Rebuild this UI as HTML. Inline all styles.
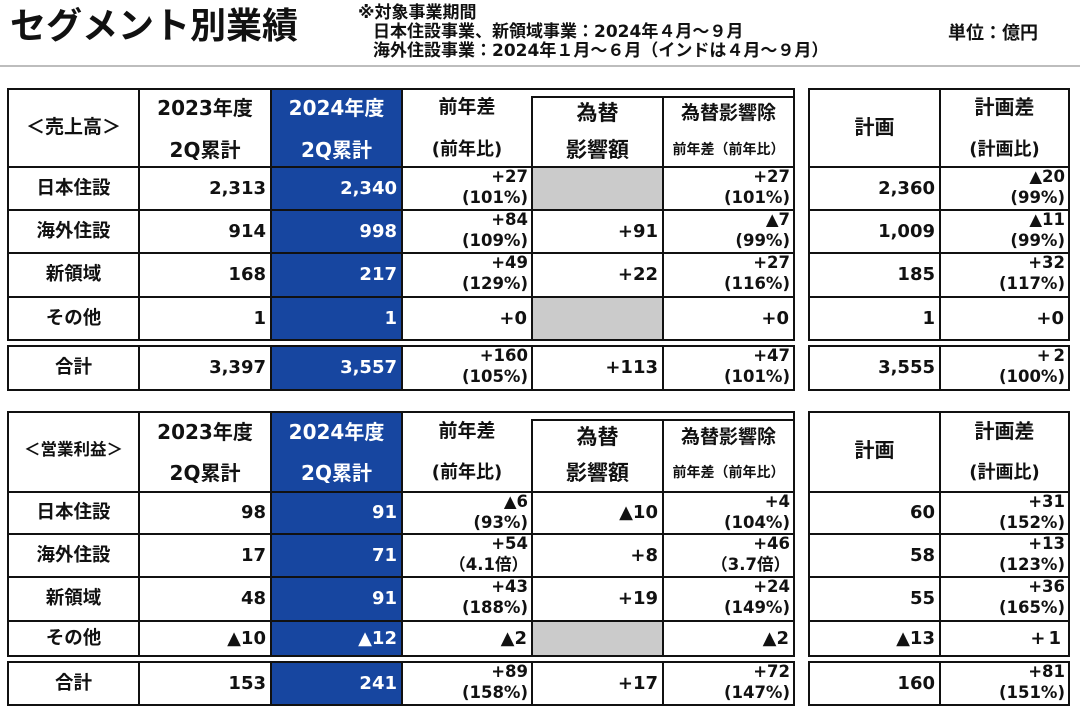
<!DOCTYPE html>
<html><head><meta charset="utf-8">
<style>
html,body{margin:0;padding:0;background:#fff;}
body{width:1080px;height:718px;position:relative;overflow:hidden;font-family:"DejaVu Sans","Noto Sans CJK JP",sans-serif;font-weight:bold;color:#111;}
div{position:absolute;white-space:nowrap;}
.hl{height:2px;background:#111;}
.vl{width:2px;background:#111;}
.blue{background:#1746a0;}
.gray{background:#cbcbcb;}
.h{height:26px;line-height:26px;text-align:center;font-size:20px;}
.lb{left:8px;width:131px;text-align:center;font-size:18.5px;}
.n{text-align:right;font-size:18px;}
.d{text-align:right;font-size:16.5px;}
.d span{display:block;height:21px;line-height:21px;}
.w{color:#fff;}
</style></head><body>

<!-- Title area -->
<div style="left:10px;top:4px;height:46px;line-height:46px;font-size:36px;">セグメント別業績</div>
<div style="left:358px;top:4px;height:19px;line-height:19px;font-size:17px;">※対象事業期間</div>
<div style="left:373px;top:23px;height:19px;line-height:19px;font-size:17px;">日本住設事業、新領域事業：2024年４月～９月</div>
<div style="left:373px;top:42px;height:19px;line-height:19px;font-size:17px;">海外住設事業：2024年１月～６月（インドは４月～９月）</div>
<div style="left:948px;top:22px;height:24px;line-height:24px;font-size:18px;">単位：億円</div>
<div style="left:0;top:65px;width:1080px;height:2px;background:#bdbdbd;"></div>

<!-- ===== TABLE 1 fills ===== -->
<div class="blue" style="left:271px;top:89px;width:131px;height:251px;"></div>
<div class="blue" style="left:271px;top:346px;width:131px;height:44px;"></div>
<div class="gray" style="left:532px;top:167px;width:131px;height:43px;"></div>
<div class="gray" style="left:532px;top:297px;width:131px;height:43px;"></div>

<!-- TABLE 1 lines left -->
<div class="hl" style="left:7px;width:788px;top:88px;"></div>
<div class="hl" style="left:531px;width:264px;top:96px;"></div>
<div class="hl" style="left:7px;width:788px;top:166px;"></div>
<div class="hl" style="left:7px;width:788px;top:209px;"></div>
<div class="hl" style="left:7px;width:788px;top:252px;"></div>
<div class="hl" style="left:7px;width:788px;top:296px;"></div>
<div class="hl" style="left:7px;width:788px;top:339px;"></div>
<div class="hl" style="left:7px;width:788px;top:345px;"></div>
<div class="hl" style="left:7px;width:788px;top:389px;"></div>
<div class="vl" style="left:7px;top:88px;height:253px;"></div>
<div class="vl" style="left:138px;top:88px;height:253px;"></div>
<div class="vl" style="left:270px;top:88px;height:253px;"></div>
<div class="vl" style="left:401px;top:88px;height:253px;"></div>
<div class="vl" style="left:793px;top:88px;height:253px;"></div>
<div class="vl" style="left:531px;top:96px;height:245px;"></div>
<div class="vl" style="left:662px;top:96px;height:245px;"></div>
<div class="vl" style="left:7px;top:345px;height:46px;"></div>
<div class="vl" style="left:138px;top:345px;height:46px;"></div>
<div class="vl" style="left:270px;top:345px;height:46px;"></div>
<div class="vl" style="left:401px;top:345px;height:46px;"></div>
<div class="vl" style="left:531px;top:345px;height:46px;"></div>
<div class="vl" style="left:662px;top:345px;height:46px;"></div>
<div class="vl" style="left:793px;top:345px;height:46px;"></div>
<!-- TABLE 1 lines right -->
<div class="hl" style="left:808px;width:262px;top:88px;"></div>
<div class="hl" style="left:808px;width:262px;top:166px;"></div>
<div class="hl" style="left:808px;width:262px;top:209px;"></div>
<div class="hl" style="left:808px;width:262px;top:252px;"></div>
<div class="hl" style="left:808px;width:262px;top:296px;"></div>
<div class="hl" style="left:808px;width:262px;top:339px;"></div>
<div class="hl" style="left:808px;width:262px;top:345px;"></div>
<div class="hl" style="left:808px;width:262px;top:389px;"></div>
<div class="vl" style="left:808px;top:88px;height:253px;"></div>
<div class="vl" style="left:939px;top:88px;height:253px;"></div>
<div class="vl" style="left:1068px;top:88px;height:253px;"></div>
<div class="vl" style="left:808px;top:345px;height:46px;"></div>
<div class="vl" style="left:939px;top:345px;height:46px;"></div>
<div class="vl" style="left:1068px;top:345px;height:46px;"></div>

<!-- TABLE 1 headers -->
<div class="h" style="left:8px;width:131px;top:114px;font-size:19px;">＜売上高＞</div>
<div class="h" style="left:139px;width:132px;top:95px;">2023年度</div>
<div class="h" style="left:139px;width:132px;top:137px;">2Q累計</div>
<div class="h w" style="left:271px;width:131px;top:95px;">2024年度</div>
<div class="h w" style="left:271px;width:131px;top:137px;">2Q累計</div>
<div class="h" style="left:402px;width:130px;top:94px;font-size:19px;">前年差</div>
<div class="h" style="left:402px;width:130px;top:137px;font-size:18px;">(前年比)</div>
<div class="h" style="left:532px;width:131px;top:100px;font-size:21px;">為替</div>
<div class="h" style="left:532px;width:131px;top:137px;font-size:21px;">影響額</div>
<div class="h" style="left:663px;width:131px;top:100px;font-size:19px;">為替影響除</div>
<div class="h" style="left:663px;width:131px;top:137px;font-size:14px;">前年差（前年比）</div>
<div class="h" style="left:809px;width:131px;top:114px;">計画</div>
<div class="h" style="left:940px;width:129px;top:94px;">計画差</div>
<div class="h" style="left:940px;width:129px;top:137px;font-size:18px;">(計画比)</div>

<!-- TABLE 1 row 1 -->
<div class="lb" style="top:167px;height:43px;line-height:43px;">日本住設</div>
<div class="n" style="left:139px;width:127px;top:167px;height:43px;line-height:43px;">2,313</div>
<div class="n w" style="left:271px;width:126px;top:167px;height:43px;line-height:43px;">2,340</div>
<div class="d" style="left:402px;width:126px;top:166px;"><span>+27</span><span>(101%)</span></div>
<div class="d" style="left:663px;width:127px;top:166px;"><span>+27</span><span>(101%)</span></div>
<div class="n" style="left:809px;width:126px;top:167px;height:43px;line-height:43px;">2,360</div>
<div class="d" style="left:940px;width:125px;top:166px;"><span>▲20</span><span>(99%)</span></div>
<!-- row 2 -->
<div class="lb" style="top:210px;height:43px;line-height:43px;">海外住設</div>
<div class="n" style="left:139px;width:127px;top:210px;height:43px;line-height:43px;">914</div>
<div class="n w" style="left:271px;width:126px;top:210px;height:43px;line-height:43px;">998</div>
<div class="d" style="left:402px;width:126px;top:209px;"><span>+84</span><span>(109%)</span></div>
<div class="n" style="left:532px;width:126px;top:210px;height:43px;line-height:43px;">+91</div>
<div class="d" style="left:663px;width:127px;top:209px;"><span>▲7</span><span>(99%)</span></div>
<div class="n" style="left:809px;width:126px;top:210px;height:43px;line-height:43px;">1,009</div>
<div class="d" style="left:940px;width:125px;top:209px;"><span>▲11</span><span>(99%)</span></div>
<!-- row 3 -->
<div class="lb" style="top:253px;height:44px;line-height:44px;">新領域</div>
<div class="n" style="left:139px;width:127px;top:253px;height:44px;line-height:44px;">168</div>
<div class="n w" style="left:271px;width:126px;top:253px;height:44px;line-height:44px;">217</div>
<div class="d" style="left:402px;width:126px;top:252px;"><span>+49</span><span>(129%)</span></div>
<div class="n" style="left:532px;width:126px;top:253px;height:44px;line-height:44px;">+22</div>
<div class="d" style="left:663px;width:127px;top:252px;"><span>+27</span><span>(116%)</span></div>
<div class="n" style="left:809px;width:126px;top:253px;height:44px;line-height:44px;">185</div>
<div class="d" style="left:940px;width:125px;top:252px;"><span>+32</span><span>(117%)</span></div>
<!-- row 4 -->
<div class="lb" style="top:297px;height:43px;line-height:43px;">その他</div>
<div class="n" style="left:139px;width:127px;top:297px;height:43px;line-height:43px;">1</div>
<div class="n w" style="left:271px;width:126px;top:297px;height:43px;line-height:43px;">1</div>
<div class="n" style="left:402px;width:125px;top:297px;height:43px;line-height:43px;">+0</div>
<div class="n" style="left:663px;width:126px;top:297px;height:43px;line-height:43px;">+0</div>
<div class="n" style="left:809px;width:126px;top:297px;height:43px;line-height:43px;">1</div>
<div class="n" style="left:940px;width:124px;top:297px;height:43px;line-height:43px;">+0</div>
<!-- total -->
<div class="lb" style="top:346px;height:44px;line-height:44px;">合計</div>
<div class="n" style="left:139px;width:127px;top:346px;height:44px;line-height:44px;">3,397</div>
<div class="n w" style="left:271px;width:126px;top:346px;height:44px;line-height:44px;">3,557</div>
<div class="d" style="left:402px;width:126px;top:345px;"><span>+160</span><span>(105%)</span></div>
<div class="n" style="left:532px;width:126px;top:346px;height:44px;line-height:44px;">+113</div>
<div class="d" style="left:663px;width:127px;top:345px;"><span>+47</span><span>(101%)</span></div>
<div class="n" style="left:809px;width:126px;top:346px;height:44px;line-height:44px;">3,555</div>
<div class="d" style="left:940px;width:125px;top:345px;"><span style="letter-spacing:3px;margin-right:-3px;">+2</span><span>(100%)</span></div>

<!-- ===== TABLE 2 fills ===== -->
<div class="blue" style="left:271px;top:412px;width:131px;height:244px;"></div>
<div class="blue" style="left:271px;top:662px;width:131px;height:43px;"></div>
<div class="gray" style="left:532px;top:621px;width:131px;height:35px;"></div>

<!-- TABLE 2 lines left -->
<div class="hl" style="left:7px;width:788px;top:411px;"></div>
<div class="hl" style="left:531px;width:264px;top:419px;"></div>
<div class="hl" style="left:7px;width:788px;top:491px;"></div>
<div class="hl" style="left:7px;width:788px;top:533px;"></div>
<div class="hl" style="left:7px;width:788px;top:576px;"></div>
<div class="hl" style="left:7px;width:788px;top:620px;"></div>
<div class="hl" style="left:7px;width:788px;top:655px;"></div>
<div class="hl" style="left:7px;width:788px;top:661px;"></div>
<div class="hl" style="left:7px;width:788px;top:704px;"></div>
<div class="vl" style="left:7px;top:411px;height:246px;"></div>
<div class="vl" style="left:138px;top:411px;height:246px;"></div>
<div class="vl" style="left:270px;top:411px;height:246px;"></div>
<div class="vl" style="left:401px;top:411px;height:246px;"></div>
<div class="vl" style="left:793px;top:411px;height:246px;"></div>
<div class="vl" style="left:531px;top:419px;height:238px;"></div>
<div class="vl" style="left:662px;top:419px;height:238px;"></div>
<div class="vl" style="left:7px;top:661px;height:45px;"></div>
<div class="vl" style="left:138px;top:661px;height:45px;"></div>
<div class="vl" style="left:270px;top:661px;height:45px;"></div>
<div class="vl" style="left:401px;top:661px;height:45px;"></div>
<div class="vl" style="left:531px;top:661px;height:45px;"></div>
<div class="vl" style="left:662px;top:661px;height:45px;"></div>
<div class="vl" style="left:793px;top:661px;height:45px;"></div>
<!-- TABLE 2 lines right -->
<div class="hl" style="left:808px;width:262px;top:411px;"></div>
<div class="hl" style="left:808px;width:262px;top:491px;"></div>
<div class="hl" style="left:808px;width:262px;top:533px;"></div>
<div class="hl" style="left:808px;width:262px;top:576px;"></div>
<div class="hl" style="left:808px;width:262px;top:620px;"></div>
<div class="hl" style="left:808px;width:262px;top:655px;"></div>
<div class="hl" style="left:808px;width:262px;top:661px;"></div>
<div class="hl" style="left:808px;width:262px;top:704px;"></div>
<div class="vl" style="left:808px;top:411px;height:246px;"></div>
<div class="vl" style="left:939px;top:411px;height:246px;"></div>
<div class="vl" style="left:1068px;top:411px;height:246px;"></div>
<div class="vl" style="left:808px;top:661px;height:45px;"></div>
<div class="vl" style="left:939px;top:661px;height:45px;"></div>
<div class="vl" style="left:1068px;top:661px;height:45px;"></div>

<!-- TABLE 2 headers -->
<div class="h" style="left:8px;width:131px;top:437px;font-size:16.5px;">＜営業利益＞</div>
<div class="h" style="left:139px;width:132px;top:419px;">2023年度</div>
<div class="h" style="left:139px;width:132px;top:460px;">2Q累計</div>
<div class="h w" style="left:271px;width:131px;top:419px;">2024年度</div>
<div class="h w" style="left:271px;width:131px;top:460px;">2Q累計</div>
<div class="h" style="left:402px;width:130px;top:418px;font-size:19px;">前年差</div>
<div class="h" style="left:402px;width:130px;top:460px;font-size:18px;">(前年比)</div>
<div class="h" style="left:532px;width:131px;top:424px;font-size:21px;">為替</div>
<div class="h" style="left:532px;width:131px;top:460px;font-size:21px;">影響額</div>
<div class="h" style="left:663px;width:131px;top:424px;font-size:19px;">為替影響除</div>
<div class="h" style="left:663px;width:131px;top:460px;font-size:14px;">前年差（前年比）</div>
<div class="h" style="left:809px;width:131px;top:437px;">計画</div>
<div class="h" style="left:940px;width:129px;top:418px;">計画差</div>
<div class="h" style="left:940px;width:129px;top:460px;font-size:18px;">(計画比)</div>

<!-- TABLE 2 row 1 -->
<div class="lb" style="top:492px;height:42px;line-height:42px;">日本住設</div>
<div class="n" style="left:139px;width:127px;top:492px;height:42px;line-height:42px;">98</div>
<div class="n w" style="left:271px;width:126px;top:492px;height:42px;line-height:42px;">91</div>
<div class="d" style="left:402px;width:126px;top:491px;"><span>▲6</span><span>(93%)</span></div>
<div class="n" style="left:532px;width:126px;top:492px;height:42px;line-height:42px;">▲10</div>
<div class="d" style="left:663px;width:127px;top:491px;"><span>+4</span><span>(104%)</span></div>
<div class="n" style="left:809px;width:126px;top:492px;height:42px;line-height:42px;">60</div>
<div class="d" style="left:940px;width:125px;top:491px;"><span>+31</span><span>(152%)</span></div>
<!-- row 2 -->
<div class="lb" style="top:534px;height:43px;line-height:43px;">海外住設</div>
<div class="n" style="left:139px;width:127px;top:534px;height:43px;line-height:43px;">17</div>
<div class="n w" style="left:271px;width:126px;top:534px;height:43px;line-height:43px;">71</div>
<div class="d" style="left:402px;width:126px;top:533px;"><span>+54</span><span>（4.1倍）</span></div>
<div class="n" style="left:532px;width:126px;top:534px;height:43px;line-height:43px;">+8</div>
<div class="d" style="left:663px;width:127px;top:533px;"><span>+46</span><span>（3.7倍）</span></div>
<div class="n" style="left:809px;width:126px;top:534px;height:43px;line-height:43px;">58</div>
<div class="d" style="left:940px;width:125px;top:533px;"><span>+13</span><span>(123%)</span></div>
<!-- row 3 -->
<div class="lb" style="top:577px;height:44px;line-height:44px;">新領域</div>
<div class="n" style="left:139px;width:127px;top:577px;height:44px;line-height:44px;">48</div>
<div class="n w" style="left:271px;width:126px;top:577px;height:44px;line-height:44px;">91</div>
<div class="d" style="left:402px;width:126px;top:576px;"><span>+43</span><span>(188%)</span></div>
<div class="n" style="left:532px;width:126px;top:577px;height:44px;line-height:44px;">+19</div>
<div class="d" style="left:663px;width:127px;top:576px;"><span>+24</span><span>(149%)</span></div>
<div class="n" style="left:809px;width:126px;top:577px;height:44px;line-height:44px;">55</div>
<div class="d" style="left:940px;width:125px;top:576px;"><span>+36</span><span>(165%)</span></div>
<!-- row 4 -->
<div class="lb" style="top:621px;height:35px;line-height:35px;">その他</div>
<div class="n" style="left:139px;width:127px;top:621px;height:35px;line-height:35px;">▲10</div>
<div class="n w" style="left:271px;width:126px;top:621px;height:35px;line-height:35px;">▲12</div>
<div class="n" style="left:402px;width:125px;top:621px;height:35px;line-height:35px;">▲2</div>
<div class="n" style="left:663px;width:126px;top:621px;height:35px;line-height:35px;">▲2</div>
<div class="n" style="left:809px;width:126px;top:621px;height:35px;line-height:35px;">▲13</div>
<div class="n" style="left:940px;width:124px;top:621px;height:35px;line-height:35px;letter-spacing:3px;">+1</div>
<!-- total -->
<div class="lb" style="top:662px;height:43px;line-height:43px;">合計</div>
<div class="n" style="left:139px;width:127px;top:662px;height:43px;line-height:43px;">153</div>
<div class="n w" style="left:271px;width:126px;top:662px;height:43px;line-height:43px;">241</div>
<div class="d" style="left:402px;width:126px;top:661px;"><span>+89</span><span>(158%)</span></div>
<div class="n" style="left:532px;width:126px;top:662px;height:43px;line-height:43px;">+17</div>
<div class="d" style="left:663px;width:127px;top:661px;"><span>+72</span><span>(147%)</span></div>
<div class="n" style="left:809px;width:126px;top:662px;height:43px;line-height:43px;">160</div>
<div class="d" style="left:940px;width:125px;top:661px;"><span>+81</span><span>(151%)</span></div>

</body></html>
